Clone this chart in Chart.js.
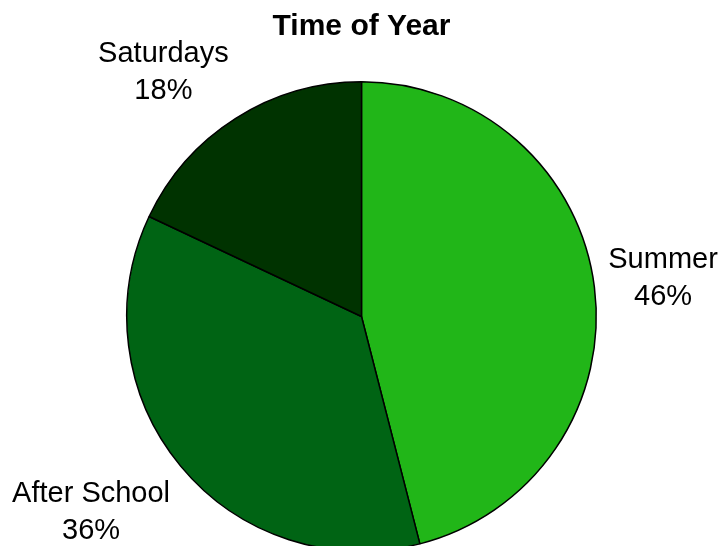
<!DOCTYPE html>
<html>
<head>
<meta charset="utf-8">
<script src="https://cdn.jsdelivr.net/npm/chart.js@4/dist/chart.umd.min.js"></script>
<style>
  html, body { margin: 0; padding: 0; background: #fff; overflow: hidden; }
  #wrap { width: 723px; height: 552px; }
</style>
</head>
<body>
<div id="wrap"><canvas id="c" width="723" height="552"></canvas></div>
<script>
const categories = ["Summer", "After School", "Saturdays"];
const values = [46, 36, 18];
const sliceColors = ["#21b618", "#006414", "#003300"];
const chartTitle = "Time of Year";

const FONT = "'Liberation Sans', Arial, sans-serif";

const outsideLabels = {
  id: 'outsideLabels',
  afterDatasetsDraw(chart) {
    const ctx = chart.ctx;
    const meta = chart.getDatasetMeta(0);
    const total = values.reduce((a, b) => a + b, 0);
    ctx.save();
    ctx.font = "29px " + FONT;
    ctx.fillStyle = "#000";
    ctx.textAlign = "center";
    ctx.textBaseline = "middle";
    const lineH = 37;
    meta.data.forEach((arc, i) => {
      const p = arc.getProps(['x', 'y', 'startAngle', 'endAngle', 'outerRadius'], true);
      const mid = (p.startAngle + p.endAngle) / 2;
      const cos = Math.cos(mid), sin = Math.sin(mid);
      const d = p.outerRadius + 15;
      const px = p.x + cos * d, py = p.y + sin * d;
      const lines = [categories[i], Math.round(values[i] / total * 100) + "%"];
      const w = Math.max(...lines.map(l => ctx.measureText(l).width));
      const h = lineH * 2;
      const cx = px + Math.sign(cos) * (w / 2 - 1);
      const cy = py + Math.max(-1, Math.min(1, sin * 2)) * (h / 2 - 2) + 2;
      lines.forEach((l, k) => {
        ctx.fillText(l, cx, cy + (k - 0.5) * lineH);
      });
    });
    ctx.restore();
  }
};

new Chart(document.getElementById('c'), {
  type: 'pie',
  data: {
    labels: categories,
    datasets: [{
      data: values,
      backgroundColor: sliceColors,
      borderColor: "#000",
      borderWidth: 1.5
    }]
  },
  options: {
    responsive: false,
    animation: false,
    layout: { padding: 0 },
    plugins: {
      legend: { display: false },
      tooltip: { enabled: false },
      title: {
        display: true,
        text: chartTitle,
        color: "#000",
        font: { family: FONT, size: 30, weight: 'bold' },
        padding: { top: 9, bottom: 36 }
      }
    }
  },
  plugins: [outsideLabels]
});
</script>
</body>
</html>
